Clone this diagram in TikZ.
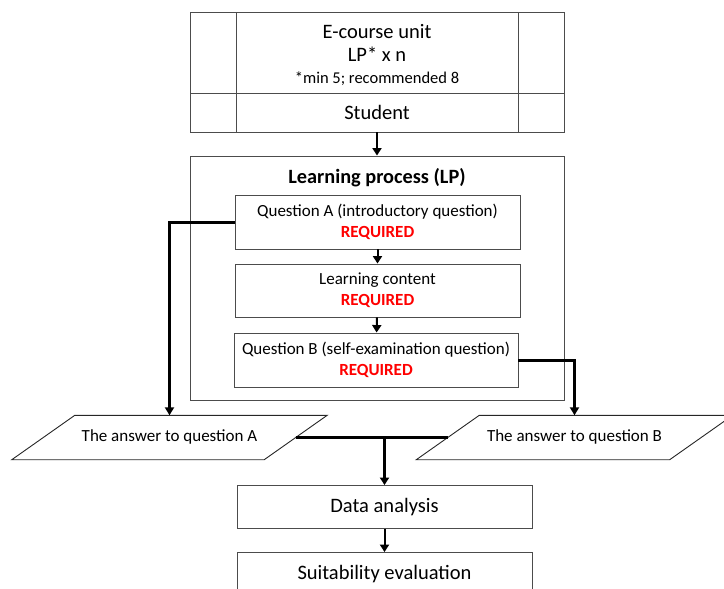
\documentclass[tikz,border=0pt]{standalone}
\usepackage{fontspec}
\setmainfont{Carlito}
\usetikzlibrary{arrows.meta,calc}

\tikzset{
  frame/.style={draw=black!70, line width=0.9pt, inner sep=0pt, align=center},
  txt/.style={font=\fontsize{17}{21}\selectfont},
  big/.style={font=\fontsize{20.5}{23}\selectfont},
  flow/.style={line width=2pt, -{Triangle[width=9pt,length=7.5pt]}},
  feed/.style={line width=3pt, -{Triangle[width=9pt,length=8pt]}},
  bar/.style={line width=3pt},
  slant/.style={draw=black!85, line width=0.9pt, line join=miter}
}
\newcommand{\reqmark}{{\color{red}\bfseries REQUIRED}}

\begin{document}
\begin{tikzpicture}[x=1pt,y=-1pt]
\useasboundingbox (0,0) rectangle (724,589);
\clip (0,0) rectangle (724,589);

% top block: unit description and student row
\node[frame, big, minimum width=374pt, minimum height=81pt] (unit) at (377,52.5) {};
\node[big, align=center] (unittext) at (377,55)
  {E-course unit\\LP* x n\\[-1pt]{\fontsize{16.5}{18}\selectfont *min 5; recommended 8}};
\node[frame, big, minimum width=374pt, minimum height=39pt] (student) at (377,112.5) {Student};
\draw[black!70, line width=0.9pt] (236,12) -- (236,132) (518,12) -- (518,132);

% learning process container
\node[frame, minimum width=374pt, minimum height=244pt] (lp) at (377,278) {};
\node[font=\bfseries\fontsize{20.3}{23}\selectfont] (lptitle) at (377,178) {Learning process (LP)};

\node[frame, txt, minimum width=285pt, minimum height=54pt] (qa) at (377.5,222)
  {Question A (introductory question)\\\reqmark};
\node[frame, txt, minimum width=285pt, minimum height=53pt] (lc) at (377.5,290.5)
  {Learning content\\\reqmark};
\node[frame, txt, minimum width=284pt, minimum height=54pt] (qb) at (376,360)
  {Question B (self-examination question)\\\reqmark};

% answers (parallelograms drawn around text nodes)
\node[txt, minimum width=252pt, minimum height=44pt, inner sep=0pt] (ansA) at (169.5,437.5) {\raisebox{3pt}{The answer to question A}};
\node[txt, minimum width=253pt, minimum height=44pt, inner sep=0pt] (ansB) at (574.5,437.5) {\raisebox{3pt}{The answer to question B}};
\draw[slant] ($(ansA.north west)+(31.5,0)$) -- ($(ansA.north east)+(31.5,0)$)
  -- ($(ansA.south east)+(-31.5,0)$) -- ($(ansA.south west)+(-31.5,0)$) -- cycle;
\draw[slant] ($(ansB.north west)+(31.5,0)$) -- ($(ansB.north east)+(31.5,0)$)
  -- ($(ansB.south east)+(-31.5,0)$) -- ($(ansB.south west)+(-31.5,0)$) -- cycle;

% analysis steps
\node[frame, big, minimum width=295pt, minimum height=43pt] (data) at (384.5,507) {Data analysis};
\node[frame, big, minimum width=295pt, minimum height=43pt] (suit) at (384.5,574) {Suitability evaluation};

% connectors
\draw[flow] (student) -- (lp);
\draw[flow] (qa) -- (lc);
\draw[flow] (lc) -- (qb);
\draw[feed] (qa.west) -| (ansA.north);
\draw[feed] (qb.east) -| (ansB.north);
\coordinate (join) at (data.north |- ansA.east);
\draw[bar] (ansA.east) -- (ansB.west);
\draw[flow, line width=3pt] (join) -- (data.north);
\draw[flow] (data) -- (suit);
\end{tikzpicture}
\end{document}
